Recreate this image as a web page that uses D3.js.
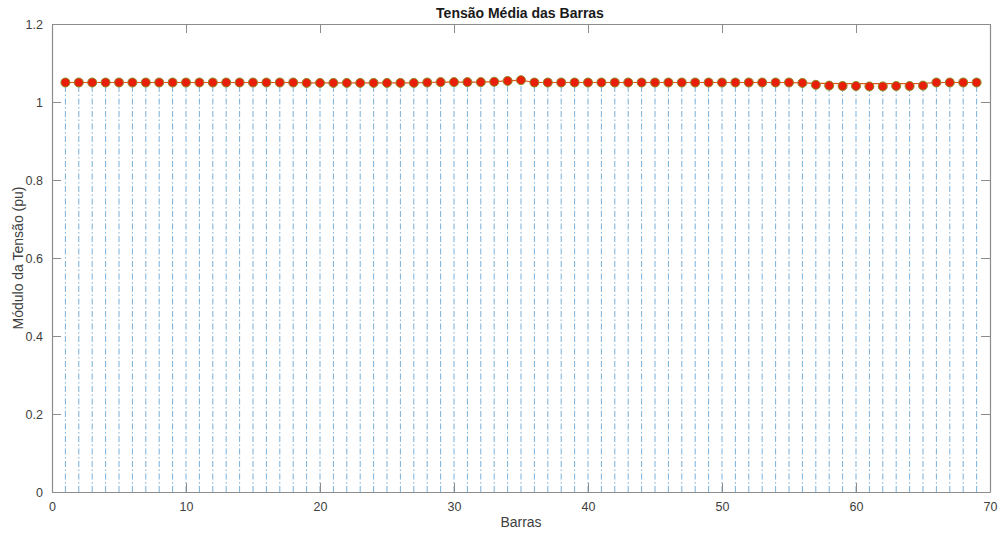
<!DOCTYPE html>
<html>
<head>
<meta charset="utf-8">
<script src="https://cdn.jsdelivr.net/npm/d3@7"></script>
<style>
  body { margin: 0; background: #fff; }
  svg text { font-family: "Liberation Sans", Arial, Helvetica, sans-serif; }
</style>
</head>
<body>
<svg id="chart" width="1005" height="535"></svg>
<script>
// barras 1..69
var barras = d3.range(1, 70);

// tensão média (marcadores / stem)
var tensao = [
  1.050, 1.050, 1.050, 1.050, 1.050, 1.050, 1.050, 1.050, 1.050, 1.050,
  1.050, 1.050, 1.050, 1.050, 1.050, 1.050, 1.050, 1.050, 1.049, 1.049,
  1.049, 1.049, 1.049, 1.049, 1.049, 1.049, 1.049, 1.050, 1.051, 1.051,
  1.051, 1.051, 1.052, 1.054, 1.056, 1.050, 1.050, 1.050, 1.050, 1.050,
  1.050, 1.050, 1.050, 1.050, 1.050, 1.050, 1.050, 1.050, 1.050, 1.050,
  1.050, 1.050, 1.050, 1.050, 1.050, 1.049, 1.044, 1.042, 1.041, 1.041,
  1.040, 1.040, 1.041, 1.041, 1.042, 1.050, 1.050, 1.050, 1.050
];

// linha (plot)
var linha = [
  1.050, 1.050, 1.050, 1.050, 1.050, 1.050, 1.050, 1.050, 1.050, 1.050,
  1.050, 1.050, 1.050, 1.050, 1.050, 1.050, 1.050, 1.050, 1.049, 1.049,
  1.049, 1.049, 1.049, 1.049, 1.049, 1.049, 1.049, 1.050, 1.051, 1.051,
  1.051, 1.051, 1.052, 1.054, 1.056, 1.050, 1.050, 1.050, 1.050, 1.050,
  1.050, 1.050, 1.050, 1.050, 1.050, 1.050, 1.050, 1.050, 1.050, 1.050,
  1.050, 1.050, 1.050, 1.050, 1.050, 1.049, 1.048, 1.048, 1.047, 1.047,
  1.047, 1.047, 1.047, 1.047, 1.048, 1.050, 1.050, 1.050, 1.050
];

var xTicks = [0, 10, 20, 30, 40, 50, 60, 70];
var yTicks = [0, 0.2, 0.4, 0.6, 0.8, 1, 1.2];

var svg = d3.select('#chart'),
    pLeft = 52, pRight = 990, pTop = 24, pBottom = 492;

var x = d3.scaleLinear().domain([0, 70]).range([pLeft, pRight]),
    y = d3.scaleLinear().domain([0, 1.2]).range([pBottom, pTop]);

var axisColor = '#8c8c8c', textColor = '#404040';

// stems
svg.append('g')
    .selectAll('line')
    .data(barras)
    .enter()
    .append('line')
    .attr('x1', function(d) { return x(d); })
    .attr('x2', function(d) { return x(d); })
    .attr('y1', y(0))
    .attr('y2', function(d, i) { return y(tensao[i]); })
    .attr('stroke', '#6aa6d4')
    .attr('stroke-width', 0.9)
    .attr('stroke-dasharray', '6,2.5,1.5,2.5');

// line
var lineGen = d3.line()
    .x(function(d) { return x(d); })
    .y(function(d, i) { return y(linha[i]); });

svg.append('path')
    .datum(barras)
    .attr('d', lineGen)
    .attr('fill', 'none')
    .attr('stroke', '#e2571c')
    .attr('stroke-width', 1.2);

// markers
svg.append('g')
    .selectAll('circle')
    .data(barras)
    .enter()
    .append('circle')
    .attr('cx', function(d) { return x(d); })
    .attr('cy', function(d, i) { return y(tensao[i]); })
    .attr('r', 4.5)
    .attr('fill', '#e81e0a')
    .attr('stroke', '#8f8a22')
    .attr('stroke-width', 1);

// axes (box, ticks inward)
var tickLen = 9;
var gx = svg.append('g').attr('transform', 'translate(0,' + pBottom + ')')
    .call(d3.axisBottom(x).tickValues(xTicks).tickSizeInner(-tickLen).tickSizeOuter(0).tickPadding(10));
var gxTop = svg.append('g').attr('transform', 'translate(0,' + pTop + ')')
    .call(d3.axisTop(x).tickValues(xTicks).tickSizeInner(-tickLen).tickSizeOuter(0).tickFormat(''));
var gy = svg.append('g').attr('transform', 'translate(' + pLeft + ',0)')
    .call(d3.axisLeft(y).tickValues(yTicks).tickSizeInner(-tickLen).tickSizeOuter(0).tickPadding(9)
        .tickFormat(d3.format('~g')));
var gyRight = svg.append('g').attr('transform', 'translate(' + pRight + ',0)')
    .call(d3.axisRight(y).tickValues(yTicks).tickSizeInner(-tickLen).tickSizeOuter(0).tickFormat(''));

[gx, gxTop, gy, gyRight].forEach(function(g) {
    g.selectAll('path').attr('stroke', axisColor).attr('stroke-width', 1.2);
    g.selectAll('line').attr('stroke', axisColor);
    g.selectAll('text').attr('fill', textColor).style('font-size', '12.5px');
});

// titles
svg.append('text')
    .attr('x', 520)
    .attr('y', 18)
    .attr('text-anchor', 'middle')
    .style('font-size', '14px')
    .style('font-weight', 'bold')
    .attr('fill', '#1a1a1a')
    .text('Tensão Média das Barras');

svg.append('text')
    .attr('x', (pLeft + pRight) / 2)
    .attr('y', 527)
    .attr('text-anchor', 'middle')
    .style('font-size', '14px')
    .attr('fill', textColor)
    .text('Barras');

svg.append('text')
    .attr('transform', 'translate(23,' + ((pTop + pBottom) / 2) + ') rotate(-90)')
    .attr('text-anchor', 'middle')
    .style('font-size', '14px')
    .attr('fill', textColor)
    .text('Módulo da Tensão (pu)');
</script>
</body>
</html>
